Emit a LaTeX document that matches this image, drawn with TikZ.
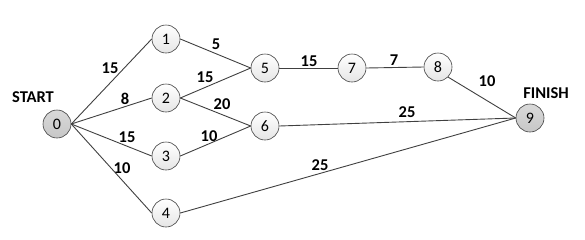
\documentclass[tikz,border=0pt]{standalone}
\usepackage{fontspec}
\setmainfont{Carlito}
\begin{document}
\begin{tikzpicture}[x=1pt,y=-1pt,
  ev/.style={circle,draw=black!75,line width=0.6pt,minimum size=28pt,inner sep=0pt,
    top color=white,bottom color=black!10,font=\fontsize{16}{19}\selectfont},
  term/.style={ev,top color=black!15,bottom color=black!22},
  edge/.style={draw=black!75,line width=0.9pt},
  wt/.style={font=\fontsize{16.5}{19}\selectfont\bfseries,inner sep=0pt}]
\useasboundingbox (0,0) rectangle (585,239);
\node[term] (n0) at (57,124) {0};
\node[ev] (n1) at (166,39) {1};
\node[ev] (n2) at (166,98) {2};
\node[ev] (n3) at (166,156) {3};
\node[ev] (n4) at (166,213) {4};
\node[ev] (n5) at (265,68) {5};
\node[ev] (n6) at (265,126) {6};
\node[ev] (n7) at (352,68) {7};
\node[ev] (n8) at (438,67) {8};
\node[term] (n9) at (530,118) {9};
\node[wt] (ls) at (33,97) {START};
\node[wt] (lf) at (546,93) {FINISH};
\draw[edge] (n0.east) -- (n1.west);
\draw[edge] (n0.east) -- (n2.west);
\draw[edge] (n0.east) -- (n3.west);
\draw[edge] (n0.east) -- (n4.west);
\draw[edge] (n1.east) -- (n5.west);
\draw[edge] (n2.east) -- (n5.west);
\draw[edge] (n2.east) -- (n6.west);
\draw[edge] (n3.east) -- (n6.west);
\draw[edge] (n5.east) -- (n7.west);
\draw[edge] (n7.east) -- (n8.west);
\draw[edge] (n8.south east) -- (n9.west);
\draw[edge] (n6.east) -- (n9.west);
\draw[edge] (n4.east) -- (n9.west);
\node[wt] (w01) at (110,68) {15};
\node[wt] (w02) at (125,99) {8};
\node[wt] (w03) at (127,137) {15};
\node[wt] (w04) at (122,168) {10};
\node[wt] (w15) at (216,44) {5};
\node[wt] (w25) at (205,77) {15};
\node[wt] (w26) at (222,104) {20};
\node[wt] (w36) at (209,136) {10};
\node[wt] (w57) at (309,61) {15};
\node[wt] (w78) at (394,60) {7};
\node[wt] (w89) at (487,81) {10};
\node[wt] (w69) at (407,112) {25};
\node[wt] (w49) at (320,165) {25};
\end{tikzpicture}
\end{document}
